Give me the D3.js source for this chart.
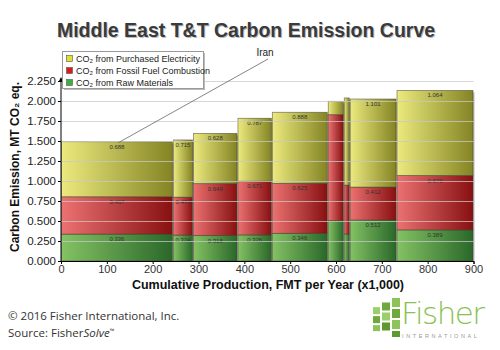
<!DOCTYPE html>
<html>
<head>
<meta charset="utf-8">
<script src="https://cdn.jsdelivr.net/npm/d3@7/dist/d3.min.js"></script>
<style>
  body { margin: 0; background: #fff; }
  text { font-family: "Liberation Sans", Arial, sans-serif; }
</style>
</head>
<body>
<div id="viz"></div>
<script>
// cumulative production per mill group (x1,000 FMT/yr)
var production = [244, 44, 97, 75, 122, 35, 13, 102, 168];
var rawMaterials = [0.336, 0.324, 0.318, 0.326, 0.346, 0.504, 0.338, 0.512, 0.389];
var fossilFuel = [0.467, 0.474, 0.649, 0.671, 0.625, 1.325, 0.610, 0.412, 0.679];
var electricity = [0.688, 0.715, 0.628, 0.787, 0.888, 0.167, 1.090, 1.101, 1.064];
var seriesNames = ["CO\u2082 from Purchased Electricity", "CO\u2082 from Fossil Fuel Combustion", "CO\u2082 from Raw Materials"];
var yTicks = [0, 0.25, 0.5, 0.75, 1, 1.25, 1.5, 1.75, 2, 2.25];
var xTicks = [0, 100, 200, 300, 400, 500, 600, 700, 800, 900];

var W = 500, H = 350;
var svg = d3.select("#viz").append("svg").attr("width", W).attr("height", H);

var x = d3.scaleLinear().domain([0, 900]).range([61, 473.5]);
var y = d3.scaleLinear().domain([0, 2.25]).range([261, 81]);

var ends = d3.cumsum(production);
var data = production.map(function (p, i) {
  return {
    x0: ends[i] - p, x1: ends[i],
    raw: rawMaterials[i], fuel: fossilFuel[i], elec: electricity[i]
  };
});
var stack = d3.stack().keys(["raw", "fuel", "elec"])(data);

var defs = svg.append("defs");
var colors = {
  raw: ["#84c264", "#2a682a"],
  fuel: ["#ec7272", "#881010"],
  elec: ["#ecea7e", "#848424"]
};
Object.keys(colors).forEach(function (k) {
  var g = defs.append("linearGradient").attr("id", "g_" + k)
    .attr("x1", "0%").attr("x2", "100%").attr("y1", "0%").attr("y2", "0%");
  g.append("stop").attr("offset", "0%").attr("stop-color", colors[k][0]);
  g.append("stop").attr("offset", "100%").attr("stop-color", colors[k][1]);
});
var legendColors = { elec: "#e0e030", fuel: "#dd1a1a", raw: "#3fae3f" };

// title
svg.append("text").attr("x", 246).attr("y", 37).attr("text-anchor", "middle")
  .style("font-size", "19.5px").style("font-weight", "bold").style("fill", "#bbb")
  .attr("dx", 1).attr("dy", 1)
  .text("Middle East T&T Carbon Emission Curve");
svg.append("text").attr("x", 246).attr("y", 37).attr("text-anchor", "middle")
  .style("font-size", "19.5px").style("font-weight", "bold").style("fill", "#3a3a3a")
  .text("Middle East T&T Carbon Emission Curve");

// bar shadows
svg.append("g").selectAll("rect").data(data).enter().append("rect")
  .attr("x", function (d) { return x(d.x0) + 2; })
  .attr("y", function (d) { return y(d.raw + d.fuel + d.elec) + 2; })
  .attr("width", function (d) { return x(d.x1) - x(d.x0) - 1; })
  .attr("height", function (d) { return y(0) - y(d.raw + d.fuel + d.elec) - 2; })
  .style("fill", "#bbb");

// bars
var layers = svg.append("g").selectAll("g").data(stack).enter().append("g")
  .style("fill", function (s) { return "url(#g_" + s.key + ")"; });
layers.selectAll("rect").data(function (s) { return s; }).enter().append("rect")
  .attr("x", function (d) { return x(d.data.x0) + 0.5; })
  .attr("y", function (d) { return y(d[1]); })
  .attr("width", function (d) { return x(d.data.x1) - x(d.data.x0) - 1; })
  .attr("height", function (d) { return y(d[0]) - y(d[1]); })
  .style("stroke", "#3a3a2a").style("stroke-opacity", 0.6).style("stroke-width", 0.8);

// gridlines over bars
svg.append("g").selectAll("line").data(yTicks.slice(1)).enter().append("line")
  .attr("x1", x(0)).attr("x2", x(900))
  .attr("y1", function (d) { return y(d) + 0.5; }).attr("y2", function (d) { return y(d) + 0.5; })
  .style("stroke", "#c8c8c8").style("stroke-opacity", 0.75);

// value labels
layers.each(function (s) {
  d3.select(this).selectAll("text").data(s.filter(function (d) {
    return x(d.data.x1) - x(d.data.x0) > 18;
  })).enter().append("text")
    .attr("x", function (d) { return (x(d.data.x0) + x(d.data.x1)) / 2; })
    .attr("y", function (d) { return y(d[1]) + 7; })
    .attr("text-anchor", "middle")
    .style("font-size", "6px").style("fill", "#333")
    .text(function (d) { return d3.format(".3f")(d[1] - d[0]); });
});

// axes
var yAxis = d3.axisLeft(y).tickValues(yTicks).tickFormat(d3.format(".3f")).tickSize(3).tickPadding(2);
var gy = svg.append("g").attr("transform", "translate(" + x(0) + ",0)").call(yAxis);
gy.select(".domain").attr("d", "M0,261V79");
gy.selectAll("text").style("font-size", "11.5px").style("fill", "#222");
var xAxis = d3.axisBottom(x).tickValues(xTicks).tickSize(3).tickPadding(1);
var gx = svg.append("g").attr("transform", "translate(0," + y(0) + ")").call(xAxis);
gx.selectAll("text").style("font-size", "11px").style("fill", "#333");
svg.append("path").attr("d", "M58.5,82L61,77L63.5,82Z").style("fill", "#000");

svg.append("text").attr("transform", "translate(19,167) rotate(-90)")
  .attr("text-anchor", "middle").style("font-size", "12px").style("font-weight", "bold")
  .style("fill", "#111").text("Carbon Emission, MT CO\u2082 eq.");
svg.append("text").attr("x", 268).attr("y", 289).attr("text-anchor", "middle")
  .style("font-size", "12.5px").style("font-weight", "bold").style("fill", "#111")
  .text("Cumulative Production, FMT per Year (x1,000)");

// legend
var lg = svg.append("g");
lg.append("rect").attr("x", 64).attr("y", 53).attr("width", 141).attr("height", 37).style("fill", "#bbb");
lg.append("rect").attr("x", 62.5).attr("y", 51.5).attr("width", 141).attr("height", 37)
  .style("fill", "#fff").style("stroke", "#999");
var keys = ["elec", "fuel", "raw"];
keys.forEach(function (k, i) {
  lg.append("rect").attr("x", 66.5).attr("y", 55.5 + i * 12).attr("width", 6).attr("height", 6)
    .style("fill", legendColors[k]).style("stroke", "#555").style("stroke-width", 0.6);
  lg.append("text").attr("x", 76).attr("y", 61.5 + i * 12).style("font-size", "9px").style("fill", "#222")
    .text(seriesNames[i]);
});

// Iran annotation
var iran = data[0];
svg.append("line").attr("x1", 268).attr("y1", 59)
  .attr("x2", x(125)).attr("y2", y(iran.raw + iran.fuel + iran.elec) + 1)
  .style("stroke", "#666").style("stroke-width", 0.8);
svg.append("text").attr("x", 265).attr("y", 56).attr("text-anchor", "middle")
  .style("font-size", "10px").style("fill", "#222").text("Iran");

// footer
svg.append("text").attr("x", 8).attr("y", 320).style("font-family", "Open Sans")
  .style("font-size", "11.5px").style("fill", "#333").text("\u00a9 2016 Fisher International, Inc.");
var src = svg.append("text").attr("x", 8).attr("y", 337).style("font-family", "Open Sans")
  .style("font-size", "11.5px").style("fill", "#333");
src.append("tspan").text("Source: Fisher");
src.append("tspan").style("font-style", "italic").text("Solve");
src.append("tspan").attr("dy", -4).style("font-size", "6px").text("\u2122");

// Fisher logo
var logo = svg.append("g");
var tiles = [
  [392, 298, 8, 9, "#8dc45a"], [392, 309, 8, 9, "#6fa83c"], [392, 320, 8, 9, "#8dc45a"],
  [382, 304, 8, 8, "#6fa83c"], [382, 314, 8, 8, "#9ccf6a"], [382, 324, 8, 8, "#5e9a30"],
  [373, 310, 7, 7, "#9ccf6a"], [373, 319, 7, 7, "#6fa83c"], [373, 328, 7, 6, "#8dc45a"],
  [392, 331, 8, 6, "#5e9a30"]
];
logo.selectAll("rect").data(tiles).enter().append("rect")
  .attr("x", function (d) { return d[0]; }).attr("y", function (d) { return d[1]; })
  .attr("width", function (d) { return d[2]; }).attr("height", function (d) { return d[3]; })
  .attr("transform", function (d) { return "translate(0," + ((d[0] - 392) * 0.15) + ")"; })
  .style("fill", function (d) { return d[4]; });
logo.append("text").attr("x", 401).attr("y", 324).style("font-family", "DejaVu Sans")
  .style("font-weight", "200").style("font-size", "31px").style("fill", "#8cc152")
  .attr("textLength", 84).text("Fisher");
logo.append("text").attr("x", 402).attr("y", 338).style("font-size", "5.5px").style("fill", "#999")
  .style("letter-spacing", "2.6px").text("INTERNATIONAL");
</script>
</body>
</html>
